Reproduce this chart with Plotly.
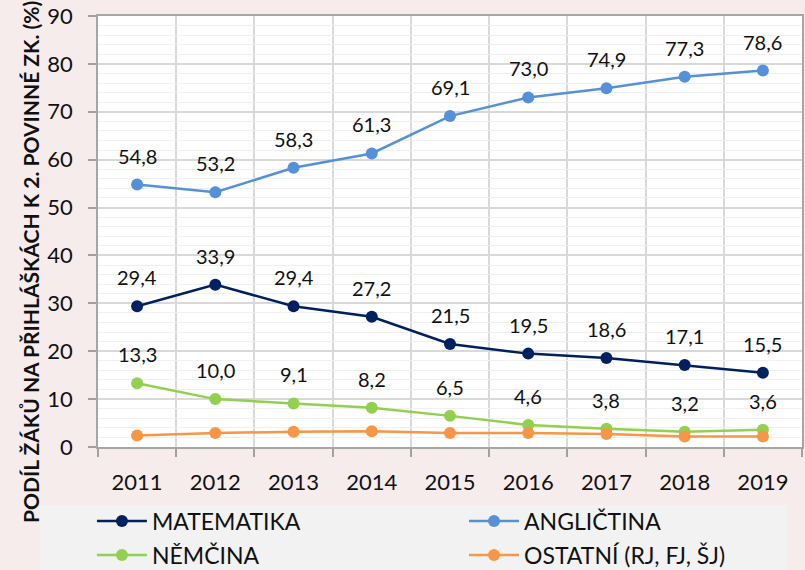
import plotly.graph_objects as go

years = [2011, 2012, 2013, 2014, 2015, 2016, 2017, 2018, 2019]
matematika = [29.4, 33.9, 29.4, 27.2, 21.5, 19.5, 18.6, 17.1, 15.5]
anglictina = [54.8, 53.2, 58.3, 61.3, 69.1, 73.0, 74.9, 77.3, 78.6]
nemcina = [13.3, 10.0, 9.1, 8.2, 6.5, 4.6, 3.8, 3.2, 3.6]
ostatni = [2.4, 2.9, 3.2, 3.3, 2.9, 2.9, 2.7, 2.2, 2.2]
y_title = "PODÍL ŽÁKŮ NA PŘIHLÁŠKÁCH K 2. POVINNÉ ZK. (%)"

series = [
    ("MATEMATIKA", matematika, "#002060", True),
    ("ANGLIČTINA", anglictina, "#5591d8", True),
    ("NĚMČINA", nemcina, "#92d050", True),
    ("OSTATNÍ (RJ, FJ, ŠJ)", ostatni, "#f79646", False),
]

FONT = "Lato"
legend_names = ["legend", "legend2", "legend3", "legend4"]
fig = go.Figure()
annotations = []
for i, (name, vals, color, labelled) in enumerate(series):
    fig.add_trace(go.Scatter(
        x=years, y=vals, name=name, mode="lines+markers",
        line=dict(color=color, width=2.5),
        marker=dict(color=color, size=12),
        legend=legend_names[i],
    ))
    if labelled:
        for x, v in zip(years, vals):
            annotations.append(dict(
                x=x, y=v, xref="x", yref="y", text=f"{v:.1f}".replace(".", ","),
                showarrow=False, yshift=29, yanchor="middle",
                font=dict(family=FONT, size=20, color="#111111"),
            ))

annotations.append(dict(
    x=-0.0966, y=0.4292, xref="paper", yref="paper", text=f"<b>{y_title}</b>",
    textangle=-90, showarrow=False, xanchor="center", yanchor="middle",
    font=dict(family=FONT, size=21, color="#111111"),
))

def leg(x, y):
    return dict(
        orientation="h", x=x, xanchor="left", y=y, yanchor="middle",
        font=dict(family=FONT, size=23, color="#111111"),
        bgcolor="rgba(0,0,0,0)", itemwidth=50,
    )

row1, row2 = -0.1717, -0.2506
colL, colR = -0.0086, 0.5199

fig.update_layout(
    width=805, height=570,
    paper_bgcolor="#f6ecec", plot_bgcolor="#ffffff",
    margin=dict(l=98, r=3, t=16, b=123, autoexpand=False),
    font=dict(family=FONT, color="#111111"),
    annotations=annotations,
    showlegend=True,
    legend=leg(colL, row1),
    legend2=leg(colR, row1),
    legend3=leg(colL, row2),
    legend4=leg(colR, row2),
    shapes=[dict(
        type="rect", xref="paper", yref="paper",
        x0=-0.0824, x1=0.9787, y0=-0.32, y1=-0.1346,
        fillcolor="#f2f2f2", line=dict(width=0), layer="below",
    )],
)

fig.update_xaxes(
    range=[2010.5, 2019.5], tickvals=years, ticktext=[str(y) for y in years],
    ticks="", showgrid=False, ticklabelstandoff=15,
    minor=dict(tick0=2010.5, dtick=1, ticks="outside", ticklen=8,
               tickcolor="#a0a0a0", tickwidth=1.5,
               showgrid=True, gridcolor="#d9d9d9", gridwidth=1.5),
    showline=True, linecolor="#a6a6a6", linewidth=1.5, mirror=True,
    zeroline=False,
    tickfont=dict(family=FONT, size=22, color="#111111"),
)
fig.update_yaxes(
    range=[0, 90], dtick=10, ticks="outside", ticklen=8,
    tickcolor="#a0a0a0", tickwidth=1.5, ticksuffix="\u2002",
    showgrid=True, gridcolor="#d9d9d9", gridwidth=1.5,
    minor=dict(dtick=2, showgrid=True, gridcolor="#f0f0f0", gridwidth=1),
    showline=True, linecolor="#a6a6a6", linewidth=1.5, mirror=True,
    zeroline=False,
    tickfont=dict(family=FONT, size=22, color="#111111"),
)

fig.write_html("out.html", config={"displayModeBar": False},
               post_script="document.body.style.margin='0';")
